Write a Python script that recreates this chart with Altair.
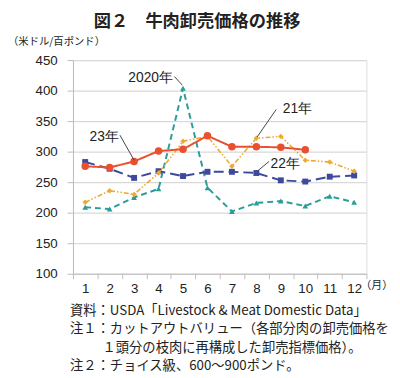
import altair as alt
import pandas as pd

# ---- data ----
months = list(range(1, 13))
y2020 = [209, 206, 225, 239, 404, 241, 202, 216, 219, 211, 227, 217]
y2021 = [217, 236, 230, 265, 317, 325, 276, 322, 325, 286, 283, 268]
y2022 = [283, 272, 257, 268, 260, 267, 267, 265, 253, 251, 259, 261]
y2023 = [276, 274, 284, 301, 304, 326, 308, 308, 307, 303]

series_names = ["2020", "2021", "2022", "2023"]
series_values = [y2020, y2021, y2022, y2023]

# annotation labels (month position, value position, text)
ann_month = [4.59, 9.08, 2.375, 8.58]
ann_value = [420, 369, 324, 280]
ann_text = ["2020年", "21年", "23年", "22年"]
ann_align = ["right", "left", "right", "left"]

# leader lines (from -> to), in data units
lead_m1 = [4.65, 8.81, 2.42, 8.52]
lead_v1 = [423, 369, 327, 284]
lead_m2 = [4.97, 8.03, 3.0, 8.04]
lead_v2 = [409, 324, 286, 268]

y_ticks = [100, 150, 200, 250, 300, 350, 400, 450]
x_edges = [m - 0.5 for m in months] + [12.5]

title_text = "図２　牛肉卸売価格の推移"
unit_text = "（米ドル/百ポンド）"
month_unit = "（月）"
notes = [
    "資料：USDA「Livestock & Meat Domestic Data」",
    "注１：カットアウトバリュー（各部分肉の卸売価格を",
    "１頭分の枝肉に再構成した卸売指標価格）。",
    "注２：チョイス級、600〜900ポンド。",
]

rows = []
for name, vals in zip(series_names, series_values):
    for m, v in zip(months, vals):
        rows.append({"series": name, "month": m, "value": v})
df = pd.DataFrame(rows)

ann_df = pd.DataFrame({"month": ann_month, "value": ann_value,
                       "label": ann_text, "align": ann_align})
lead_df = pd.DataFrame({"month": lead_m1, "value": lead_v1, "m2": lead_m2, "v2": lead_v2})

W, H = 298, 217
JP = "Noto Sans CJK JP"
LAT = "Liberation Sans"

xscale = alt.Scale(domain=[0.5, 12.5], nice=False, zero=False)
yscale = alt.Scale(domain=[100, 450], nice=False, zero=False)

xaxis = alt.Axis(
    values=x_edges,
    labelExpr="datum.value < 12 ? format(datum.value + 0.5, 'd') : ''",
    labelOffset=W / 24,
    labelFlush=False,
    labelOverlap=False,
    labelBound=False,
    labelFont=LAT, labelFontSize=13.5, labelColor="#222",
    labelPadding=3,
    tickSize=5, tickColor="#bdbdbd", domainColor="#bdbdbd",
    grid=False, title=None,
)
yaxis = alt.Axis(
    values=y_ticks,
    labelOverlap=False,
    labelFlush=False,
    labelFont=LAT, labelFontSize=13.5, labelColor="#222",
    labelPadding=10,
    tickSize=6, tickColor="#bdbdbd", domainColor="#bdbdbd",
    grid=True, gridColor="#d9d9d9", gridWidth=1.2,
    title=None,
)

xenc = alt.X("month:Q", scale=xscale, axis=xaxis)
yenc = alt.Y("value:Q", scale=yscale, axis=yaxis)

styles = {
    "2020": dict(color="#2A9D99", dash=[6, 4], shape="triangle-up", size=34, width=2),
    "2022": dict(color="#3D4A9C", dash=[10, 5], shape="square", size=36, width=2),
    "2021": dict(color="#F0A830", dash=[5, 2, 1.5, 2, 1.5, 2], shape="diamond", size=30, width=1.6),
    "2023": dict(color="#E8502F", dash=[1, 0], shape="circle", size=58, width=2),
}

layers = []
for name in ["2020", "2022", "2021", "2023"]:
    s = styles[name]
    layers.append(
        alt.Chart(df).transform_filter(alt.datum.series == name).mark_line(
            color=s["color"], strokeDash=s["dash"], strokeWidth=s["width"],
            point=alt.OverlayMarkDef(shape=s["shape"], filled=True, size=s["size"],
                                     color=s["color"], opacity=1),
        ).encode(x=xenc, y=yenc)
    )

leaders = alt.Chart(lead_df).mark_rule(color="#444", strokeWidth=1).encode(
    x=xenc, y=yenc, x2="m2:Q", y2="v2:Q",
)

ann_layers = []
for al in ["left", "right"]:
    ann_layers.append(
        alt.Chart(ann_df).transform_filter(alt.datum.align == al).mark_text(
            align=al, baseline="middle", font=LAT, fontSize=14, color="#222"
        ).encode(x=xenc, y=yenc, text="label:N")
    )

def txt(t, x, y, size, align="left", weight="normal", font=JP):
    return alt.Chart(pd.DataFrame({"t": [t]})).mark_text(
        align=align, baseline="middle", font=font, fontSize=size,
        fontWeight=weight, color="#222"
    ).encode(x=alt.value(x), y=alt.value(y), text="t:N")

extras = [
    txt(title_text, 126, -39, 17.5, align="center", weight="bold"),
    txt(unit_text, -66, -18, 10.5),
    txt(month_unit, 292, 229, 11),
    txt(notes[0], -3, 255, 13.5),
    txt(notes[1], -3, 273.5, 13.5),
    txt(notes[2], 30, 292, 13.5),
    txt(notes[3], -3, 311, 13.5),
]

chart = alt.layer(*layers, leaders, *ann_layers, *extras).properties(
    width=W, height=H,
    autosize=alt.AutoSizeParams(type="none"),
    padding={"left": 66, "top": 50, "right": 26, "bottom": 103},
).configure_view(stroke=None).configure(background="white")

chart.save("out.html", embed_options={"renderer": "svg", "actions": False})
